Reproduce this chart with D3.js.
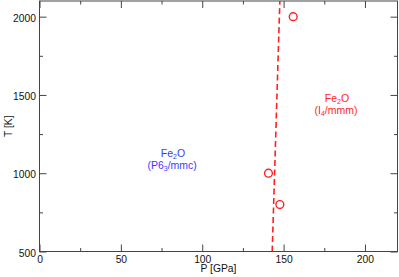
<!DOCTYPE html>
<html><head><meta charset="utf-8">
<script src="https://cdn.jsdelivr.net/npm/d3@7"></script>
<style>body{margin:0;background:#fff}svg{display:block}text{font-family:"Liberation Sans",Arial,sans-serif}</style>
</head><body>
<svg id="c" width="399" height="277"></svg>
<script>
const xTicks = [0, 50, 100, 150, 200];
const yTicks = [500, 1000, 1500, 2000];
const boundaryP = [143.0, 147.7];
const boundaryT = [500, 2100];
const pointsP = [155.9, 140.7, 147.7];
const pointsT = [2000, 1000, 800];
const phaseLabels = [
  {P: 82, T: 1101, name: "Fe", sub1: "2", rest: "O", color: "#3a3aff"},
  {P: 182.8, T: 1454, name: "Fe", sub1: "2", rest: "O", color: "#ff2424"}
];
const spaceGroups = [
  {P: 81.5, T: 1027, a: "(P6", s: "3", b: "/mmc)", color: "#3a3aff"},
  {P: 182.2, T: 1381, a: "(I", s: "4", b: "/mmm)", color: "#ff2424"}
];

const svg = d3.select("#c");
const m = {l: 39.5, r: 397.5, t: 1, b: 251.5};
const x = d3.scaleLinear().domain([0, 220]).range([m.l, m.r]);
const y = d3.scaleLinear().domain([500, 2100]).range([m.b, m.t]);
const axCol = "#444";
const fmt = d3.format("d");

svg.append("rect").attr("x", m.l).attr("y", m.t).attr("width", m.r - m.l).attr("height", m.b - m.t)
  .attr("fill", "none").attr("stroke", axCol).attr("stroke-width", 1);

const minorX = d3.range(0, 221, 25).filter(v => v % 50 !== 0);
const minorY = d3.range(500, 2101, 250).filter(v => v % 500 !== 0);

function axisX(g, orient, ticks, len, labels) {
  const ax = (orient === "bottom" ? d3.axisBottom(x) : d3.axisTop(x)).tickValues(ticks).tickSizeInner(-len).tickSizeOuter(0);
  ax.tickFormat(labels ? fmt : "");
  g.call(ax);
}
function axisY(g, orient, ticks, len, labels) {
  const ax = (orient === "left" ? d3.axisLeft(y) : d3.axisRight(y)).tickValues(ticks).tickSizeInner(-len).tickSizeOuter(0);
  ax.tickFormat(labels ? fmt : "");
  g.call(ax);
}
const gb = svg.append("g").attr("transform", `translate(0,${m.b})`);
axisX(gb, "bottom", xTicks, 7, true);
axisX(svg.append("g").attr("transform", `translate(0,${m.b})`), "bottom", minorX, 3.5, false);
axisX(svg.append("g").attr("transform", `translate(0,${m.t})`), "top", xTicks, 7, false);
axisX(svg.append("g").attr("transform", `translate(0,${m.t})`), "top", minorX, 3.5, false);
const gl = svg.append("g").attr("transform", `translate(${m.l},0)`);
axisY(gl, "left", yTicks, 7, true);
axisY(svg.append("g").attr("transform", `translate(${m.l},0)`), "left", minorY, 3.5, false);
axisY(svg.append("g").attr("transform", `translate(${m.r},0)`), "right", yTicks, 7, false);
axisY(svg.append("g").attr("transform", `translate(${m.r},0)`), "right", minorY, 3.5, false);

svg.selectAll(".domain").remove();
svg.selectAll(".tick line").attr("stroke", axCol);
gb.selectAll(".tick text").attr("font-size", 10.3).attr("fill", "#111").attr("dy", null).attr("y", 11);
gl.selectAll(".tick text").attr("font-size", 10.3).attr("fill", "#111").attr("x", -3.5).attr("dy", "0.45em");

svg.append("text").attr("x", (m.l + m.r) / 2).attr("y", 272).attr("text-anchor", "middle")
  .attr("font-size", 10.3).attr("fill", "#111").text("P [GPa]");
svg.append("text").attr("transform", `translate(11.5,${(m.t + m.b) / 2}) rotate(-90)`).attr("text-anchor", "middle")
  .attr("font-size", 10.3).attr("fill", "#111").text("T [K]");

const line = d3.line().x(d => x(d[0])).y(d => y(d[1]));
svg.append("path").datum(boundaryP.map((p, i) => [p, boundaryT[i]]))
  .attr("d", line).attr("fill", "none").attr("stroke", "#ff2020").attr("stroke-width", 1.6)
  .attr("stroke-dasharray", "6,3.5");

svg.selectAll("circle.pt").data(pointsP.map((p, i) => [p, pointsT[i]])).join("circle")
  .attr("class", "pt").attr("cx", d => x(d[0])).attr("cy", d => y(d[1])).attr("r", 3.9)
  .attr("fill", "none").attr("stroke", "#ff2020").attr("stroke-width", 1.4);

phaseLabels.forEach(l => {
  const t = svg.append("text").attr("x", x(l.P)).attr("y", y(l.T)).attr("text-anchor", "middle")
    .attr("font-size", 10.5).attr("fill", l.color);
  t.append("tspan").text(l.name);
  t.append("tspan").attr("font-size", 7).attr("dy", 1.5).text(l.sub1);
  t.append("tspan").attr("dy", -1.5).text(l.rest);
});
spaceGroups.forEach(l => {
  const t = svg.append("text").attr("x", x(l.P)).attr("y", y(l.T)).attr("text-anchor", "middle")
    .attr("font-size", 10.5).attr("fill", l.color);
  t.append("tspan").text(l.a);
  t.append("tspan").attr("font-size", 7).attr("dy", 2).text(l.s);
  t.append("tspan").attr("dy", -2).text(l.b);
});
</script>
</body></html>
